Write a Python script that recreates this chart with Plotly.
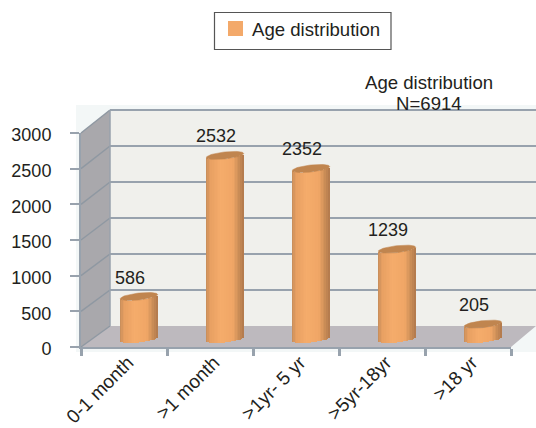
import numpy as np
import plotly.graph_objects as go

categories = ["0-1 month", ">1 month", ">1yr- 5 yr", ">5yr-18yr", ">18 yr"]
patients = [586, 2532, 2352, 1239, 205]
y_ticks = [0, 500, 1000, 1500, 2000, 2500, 3000]

W, H = 536, 428
LEFT, RIGHT_END, BASE_Y, TOP_Y = 81, 511, 347, 133
DX, DY = 29, 21
PER_UNIT_FRONT = (BASE_Y - TOP_Y) / 3000
PER_UNIT_BAR = 0.0725
BAR_FLOOR_Y = 339
CAT_PX = (RIGHT_END - LEFT) / 5
DEPTH_SHIFT = 15 / CAT_PX      # bars stand halfway back on the floor
HALF_W = 18.7 / CAT_PX
CAP_B = 3.5 / PER_UNIT_BAR     # cap ellipse, in value units
CAP_TILT = 2.0 / PER_UNIT_BAR

GRID = "#98a2ad"
WALL_GRID = "#8f98a2"
TEXT = "#231f20"
FONT = "Liberation Sans"


def px(x):
    return (x - LEFT) / (RIGHT_END - LEFT)


def py(y):
    return (BASE_Y - y) / (BASE_Y - TOP_Y)


def poly(points, fill, layer="below"):
    path = "M " + " L ".join(f"{px(a):.4f},{py(b):.4f}" for a, b in points) + " Z"
    return dict(type="path", xref="paper", yref="paper", path=path,
                fillcolor=fill, line=dict(width=0), layer=layer)


def seg(x0, y0, x1, y1, color, width=2):
    return dict(type="line", xref="paper", yref="paper", x0=px(x0), y0=py(y0),
                x1=px(x1), y1=py(y1), line=dict(color=color, width=width), layer="below")


def mix(stops, t):
    pos = [s[0] for s in stops]
    rgb = [np.interp(t, pos, [s[1][i] for s in stops]) for i in range(3)]
    return "rgb({:.0f},{:.0f},{:.0f})".format(*rgb)


def label(x, y, text, size, anchor="center"):
    return dict(xref="paper", yref="paper", x=px(x), y=py(y), xanchor=anchor, yanchor="middle",
                text=text, showarrow=False, font=dict(family=FONT, size=size, color=TEXT))


# Lighting across the cylinder, left edge to right edge
SHADE = [(0.0, (196, 140, 90)), (0.12, (232, 160, 98)), (0.4, (245, 172, 107)),
         (0.72, (240, 166, 102)), (0.88, (205, 143, 88)), (1.0, (176, 120, 76))]

fig = go.Figure()
positions = np.arange(len(categories))
centers = positions + DEPTH_SHIFT

# Scene: halo, back wall, side wall, floor and their rules
shapes = [
    dict(type="rect", xref="paper", yref="paper", x0=px(76), x1=px(536), y0=py(352), y1=py(105),
         fillcolor="#f3f7f7", line=dict(width=0), layer="below"),
    poly([(LEFT + DX, 110), (536, 110), (536, BASE_Y - DY), (LEFT + DX, BASE_Y - DY)], "#f0f0ec"),
    poly([(LEFT, TOP_Y), (LEFT + DX, 110), (LEFT + DX, BASE_Y - DY), (LEFT, BASE_Y)], "#a9a8ac"),
    poly([(LEFT, BASE_Y), (LEFT + DX, BASE_Y - DY), (536, BASE_Y - DY), (RIGHT_END, BASE_Y)], "#bdb9be"),
]
for tick in y_ticks:
    front = BASE_Y - tick * PER_UNIT_FRONT
    back = BASE_Y - DY - tick * (BASE_Y - DY - 110) / 3000
    shapes.append(seg(LEFT, front, LEFT + DX, back, WALL_GRID, 1.5))
    if tick:
        shapes.append(seg(LEFT + DX, back, 536, back, GRID, 2.2))
shapes.append(seg(LEFT + DX, 110, LEFT + DX, BASE_Y - DY, GRID, 1.5))

# Legend frame and swatch
shapes.append(dict(type="rect", xref="paper", yref="paper", x0=px(214.5), x1=px(391), y0=py(49.5), y1=py(12.5),
                   fillcolor="white", line=dict(color="#555555", width=1.2)))
shapes.append(dict(type="rect", xref="paper", yref="paper", x0=px(228), x1=px(243), y0=py(36), y1=py(21),
                   fillcolor="#f3a96a", line=dict(width=0)))

# Keeps the value axis drawn; the visible bars sit on the set-back axis
fig.add_trace(go.Scatter(x=positions, y=patients, mode="markers", marker=dict(opacity=0),
                         showlegend=False, hoverinfo="skip"))

# Each cylinder is a run of thin vertical strips, so its body can carry the shading
STRIPS = 24
for s in range(STRIPS):
    t = (s + 0.5) / STRIPS
    u = 2 * t - 1
    lower_arc = CAP_TILT * u - CAP_B * np.sqrt(1 - u * u)
    fig.add_trace(go.Bar(
        x=centers + u * HALF_W, y=patients, base=[lower_arc] * len(patients),
        width=2 * HALF_W / STRIPS * 1.12, yaxis="y2", showlegend=False, hoverinfo="skip",
        marker=dict(color=mix(SHADE, t), line=dict(width=0)),
    ))

# Elliptical top of each cylinder
angle = np.linspace(0, 2 * np.pi, 61)
for cx, value in zip(centers, patients):
    fig.add_trace(go.Scatter(
        x=cx + HALF_W * np.cos(angle), y=value + CAP_TILT * np.cos(angle) + CAP_B * np.sin(angle),
        yaxis="y2", mode="lines", fill="toself", fillcolor="#c0854f",
        line=dict(color="#c0854f", width=0.5), showlegend=False, hoverinfo="skip",
    ))

annotations = [
    dict(x=cx, y=value, xref="x", yref="y2", text=str(value), showarrow=False, xshift=-9, yshift=19,
         xanchor="center", yanchor="middle", font=dict(family=FONT, size=18, color=TEXT))
    for cx, value in zip(centers, patients)
]
annotations.append(label(250, 29.5, "Age distribution", 18.6, "left"))
annotations.append(label(429, 82, "Age distribution", 18.6))
annotations.append(label(429, 104, "N=6914", 18.6))

fig.update_layout(
    width=W, height=H, autosize=False, paper_bgcolor="white", plot_bgcolor="rgba(0,0,0,0)",
    margin=dict(l=LEFT, r=W - RIGHT_END, t=TOP_Y, b=H - BASE_Y, pad=0, autoexpand=False),
    barmode="overlay", bargap=0, showlegend=False, shapes=shapes, annotations=annotations,
    font=dict(family=FONT, size=18, color=TEXT),
    xaxis=dict(
        range=[-0.5, 4.5], tickmode="array", tickvals=list(positions), ticktext=categories,
        tickangle=-45, ticks="", showgrid=False, zeroline=False, showline=True,
        linecolor=GRID, linewidth=2, tickfont=dict(family=FONT, size=19, color=TEXT),
        ticklabelstandoff=-5, ticklabelshift=4,
        minor=dict(tickmode="array", tickvals=list(positions - 0.5) + [4.5], ticks="outside",
                   ticklen=7, tickwidth=3, tickcolor=GRID, showgrid=False),
    ),
    yaxis=dict(
        range=[0, 3000], tickmode="array", tickvals=y_ticks, ticks="outside", ticklen=9, tickwidth=2,
        tickcolor=GRID, showline=True, linecolor=GRID, linewidth=2, showgrid=False, zeroline=False,
        tickfont=dict(family=FONT, size=18, color=TEXT), ticklabelstandoff=15, ticklabelshift=2,
    ),
    yaxis2=dict(
        overlaying="y", side="left", visible=False, showgrid=False, zeroline=False,
        range=[-(BASE_Y - BAR_FLOOR_Y) / PER_UNIT_BAR, (BAR_FLOOR_Y - TOP_Y) / PER_UNIT_BAR],
    ),
)

fig.write_html("out.html")
